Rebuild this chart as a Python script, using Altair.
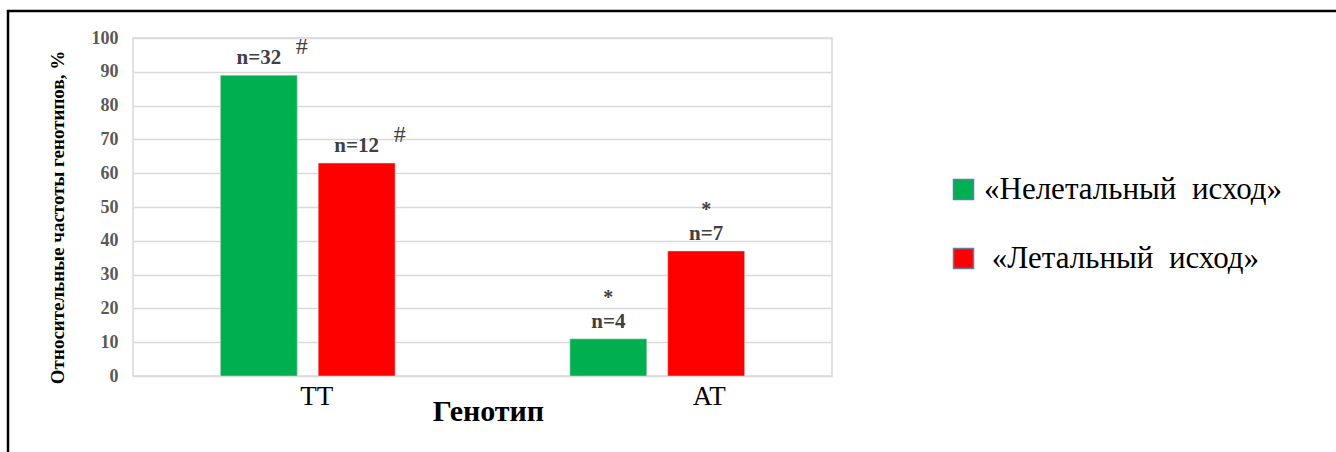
import altair as alt
import pandas as pd

genotypes = ["TT", "TT", "AT", "AT"]
outcomes = ["«Нелетальный\u00a0 исход»", "\u200b\u00a0«Летальный\u00a0 исход»",
            "«Нелетальный\u00a0 исход»", "\u200b\u00a0«Летальный\u00a0 исход»"]
values = [89, 63, 11, 37]
n_labels = ["n=32", "n=12", "n=4", "n=7"]
sig_marks = ["#", "#", "*", "*"]

outcome_order = ["«Нелетальный\u00a0 исход»", "\u200b\u00a0«Летальный\u00a0 исход»"]
colors = ["#00b050", "#ff0000"]

df = pd.DataFrame({"genotype": genotypes, "outcome": outcomes, "value": values,
                   "nlab": n_labels, "sig": sig_marks})

FONT = "Liberation Serif, Times New Roman, serif"

x_enc = alt.X("genotype:N", sort=["TT", "AT"],
              scale=alt.Scale(paddingInner=0, paddingOuter=0),
              axis=alt.Axis(title="Генотип", labelAngle=0, labelFont=FONT, labelFontSize=27,
                            labelColor="#000000", labelPadding=7, ticks=False, domain=False,
                            labelOffset={"condition": {"test": "datum.value === 'AT'", "value": 52},
                                         "value": 9},
                            titleFont=FONT, titleFontSize=30, titleFontWeight="bold",
                            titleColor="#000000", titleX=355, titleY=35, titleBaseline="middle"))
xo_enc = alt.XOffset("outcome:N", sort=outcome_order,
                     scale=alt.Scale(paddingInner=0.214, paddingOuter=0.893))
y_enc = alt.Y("value:Q", scale=alt.Scale(domain=[0, 100]),
              axis=alt.Axis(title="Относительные частоты генотипов, %", values=list(range(0, 101, 10)),
                            labelFont=FONT, labelFontSize=18, labelFontWeight="bold",
                            labelColor="#595959", labelPadding=15, ticks=False, domain=False,
                            gridColor="#d9d9d9", gridWidth=1.5,
                            titleFont=FONT, titleFontSize=19, titleFontWeight="bold",
                            titleColor="#000000", titleX=-76, titleY=179, titleBaseline="middle",
                            titleAlign="center"))

base = alt.Chart(df)

bars = base.mark_bar(stroke="#e0e0e0", strokeWidth=0.5).encode(
    x=x_enc, xOffset=xo_enc, y=y_enc,
    color=alt.Color("outcome:N", sort=outcome_order,
                    scale=alt.Scale(domain=outcome_order, range=colors),
                    legend=alt.Legend(title=None, orient="none", legendX=815, legendY=136,
                                      symbolType="square", symbolSize=400,
                                      symbolStrokeColor="#5b7fa8", symbolStrokeWidth=1.5,
                                      labelFont=FONT, labelFontSize=31, labelColor="#000000",
                                      labelOffset=5, rowPadding=37, labelLimit=500))
)

nlab = base.mark_text(font=FONT, fontSize=21, fontWeight="bold", color="#404040",
                      dy=-17, baseline="middle").encode(
    x=x_enc, xOffset=xo_enc, y=y_enc, text="nlab:N")

hash_marks = base.transform_filter(alt.datum.genotype == "TT").mark_text(
    font=FONT, fontSize=24, color="#404040", dx=43, dy=-28, baseline="middle").encode(
    x=x_enc, xOffset=xo_enc, y=y_enc, text="sig:N")

star_marks = base.transform_filter(alt.datum.genotype == "AT").mark_text(
    font=FONT, fontSize=20, fontWeight="bold", color="#404040", dy=-41, baseline="middle").encode(
    x=x_enc, xOffset=xo_enc, y=y_enc, text="sig:N")

frame_top = alt.Chart(pd.DataFrame({"a": [0]})).mark_rule(color="#000000", strokeWidth=2.5).encode(
    x=alt.value(-126), x2=alt.value(1260), y=alt.value(-27))
frame_left = alt.Chart(pd.DataFrame({"a": [0]})).mark_rule(color="#000000", strokeWidth=2.5).encode(
    x=alt.value(-125), y=alt.value(-28), y2=alt.value(420))

chart = alt.layer(bars, nlab, hash_marks, star_marks, frame_top, frame_left).properties(
    width=699, height=338,
    autosize=alt.AutoSizeParams(type="none"),
    padding={"left": 133, "top": 38, "right": 504, "bottom": 76},
    background="#ffffff",
).configure_view(stroke="#d9d9d9", strokeWidth=1.5)

chart.save("out.html", embed_options={"renderer": "svg", "actions": False})
